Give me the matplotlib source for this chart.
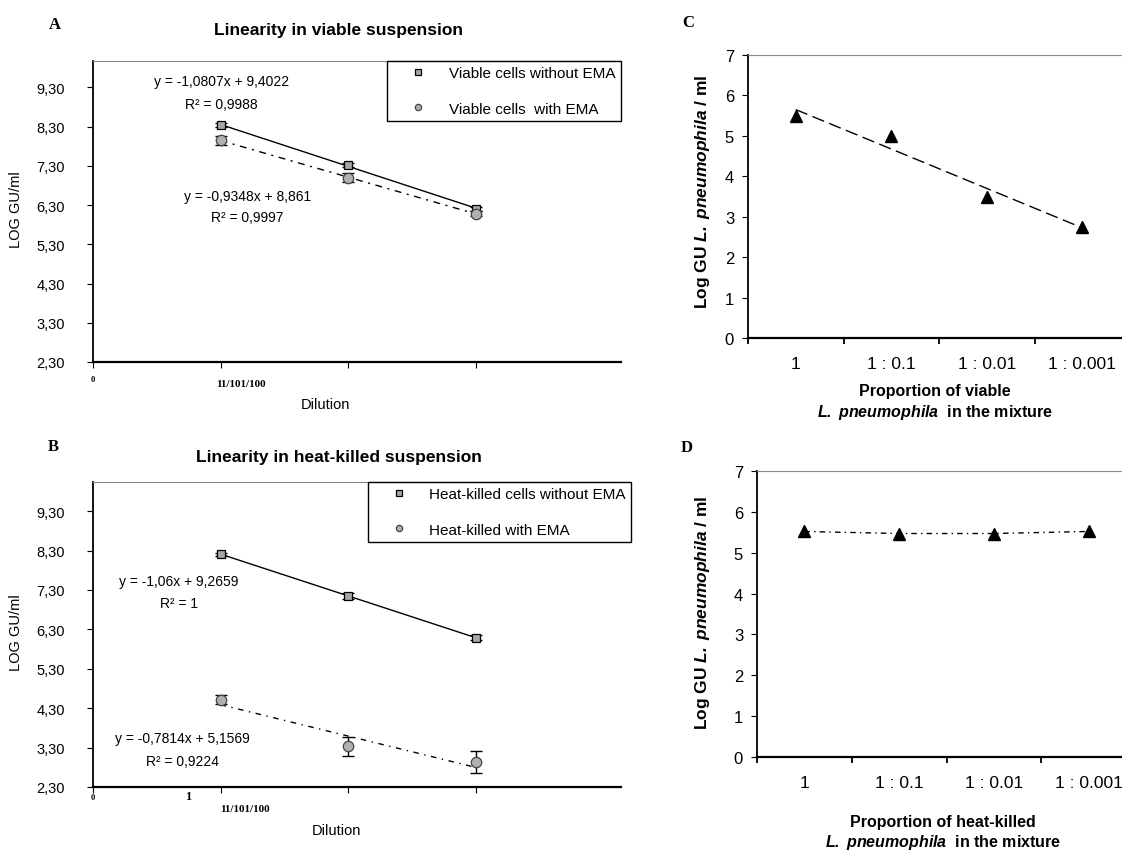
import matplotlib.pyplot as plt
import numpy as np

plt.rcParams['font.family'] = ['Liberation Sans', 'DejaVu Sans']
plt.rcParams['mathtext.fontset'] = 'custom'
plt.rcParams['mathtext.rm'] = 'Liberation Sans'
plt.rcParams['mathtext.bf'] = 'Liberation Sans:bold'
plt.rcParams['mathtext.it'] = 'Liberation Sans:italic'
plt.rcParams['mathtext.bfit'] = 'Liberation Sans:italic:bold'

#panels A, B : dilution series
dilution = [1, 2, 3]
viable_no_ema = [8.33, 7.33, 6.20]
viable_no_ema_err = [0.05, 0.05, 0.05]
viable_ema = [7.95, 7.00, 6.08]
viable_ema_err = [0.12, 0.12, 0.06]
heat_no_ema = [8.21, 7.15, 6.09]
heat_no_ema_err = [0.04, 0.08, 0.07]
heat_ema = [4.52, 3.33, 2.93]
heat_ema_err = [0.12, 0.25, 0.28]
log_ticks = [2.3, 3.3, 4.3, 5.3, 6.3, 7.3, 8.3, 9.3]

#panels C, D : mixtures
proportions = ['1', '1 : 0.1', '1 : 0.01', '1 : 0.001']
mix_viable = [5.5, 5.0, 3.5, 2.75]
mix_heat = [5.52, 5.47, 5.47, 5.52]

W, H = 1122, 853
fig = plt.figure(figsize=(W / 100, H / 100), dpi=100)

def px_axes(left, top, right, bottom):
    return fig.add_axes([left / W, 1 - bottom / H, (right - left) / W, (bottom - top) / H])

def style_axes(ax):
    ax.spines['right'].set_visible(False)
    ax.spines['top'].set_color('#8a8a8a')
    ax.spines['left'].set_linewidth(1.3)
    ax.spines['bottom'].set_linewidth(1.6)

sq = dict(marker='s', ms=6, mfc='#a6a6a6', mec='black', mew=0.9)
ci = dict(marker='o', ms=7.5, mfc='#b0b0b0', mec='#444444', mew=0.9)

def dilution_panel(ax, y1, e1, y2, e2, ls2, lab1, lab2, eqs, ytop):
    x = np.array(dilution)
    for y, e, ls in [(y1, e1, '-'), (y2, e2, ls2)]:
        ax.errorbar(x, y, yerr=e, fmt='none', ecolor='black', elinewidth=1, capsize=4, capthick=1)
        k = np.polyfit(x, y, 1)
        ax.plot(x, np.polyval(k, x), color='black', lw=1, ls=ls)
    ax.plot(x, y1, ls='none', label=lab1, **sq)
    ax.plot(x, y2, ls='none', label=lab2, **ci)
    for (tx, ty, s) in eqs:
        ax.text(tx, ty, s, ha='center', va='center', fontsize=10)
    ax.set_xlim(0, 4.14)
    ax.set_ylim(2.3, ytop)
    ax.set_xticks([0, 1, 2, 3])
    ax.set_xticklabels([])
    ax.set_yticks(log_ticks)
    ax.set_yticklabels([('%.2f' % v).replace('.', ',') for v in log_ticks], fontsize=10.5)
    ax.tick_params(axis='y', length=4, pad=16)
    ax.tick_params(axis='x', length=4)
    ax.set_ylabel('LOG GU/ml', fontsize=10.5)
    ax.set_xlabel('Dilution', fontsize=10.5)
    style_axes(ax)

def box_legend(ax, x0):
    leg = ax.legend(loc='upper left', bbox_to_anchor=(x0, 1.0), fontsize=11, frameon=True, fancybox=False,
                    edgecolor='black', framealpha=1, borderpad=0.35, labelspacing=1.4, handlelength=3.4,
                    handletextpad=0.3, borderaxespad=0)
    leg.get_frame().set_linewidth(1)
    leg.legend_handles[0].set_markersize(5)
    leg.legend_handles[1].set_markersize(4.5)

#A
axA = px_axes(93, 62, 621, 363)
dilution_panel(axA, viable_no_ema, viable_no_ema_err, viable_ema, viable_ema_err, (0, (5, 4, 1.5, 4)),
               'Viable cells without EMA', 'Viable cells  with EMA',
               [(1.01, 9.46, 'y = -1,0807x + 9,4022'), (1.01, 8.87, 'R² = 0,9988'),
                (1.21, 6.53, 'y = -0,9348x + 8,861'), (1.21, 5.99, 'R² = 0,9997')], 9.97)
box_legend(axA, 0.557)
axA.yaxis.set_label_coords(-0.133, 0.508)
axA.xaxis.set_label_coords(0.44, -0.117)
axA.text(0, -0.056, '0', transform=axA.get_xaxis_transform(), ha='center', va='center',
         fontsize=6, family='Liberation Serif', fontweight='bold')
axA.text(0.965, -0.072, '11/101/100', transform=axA.get_xaxis_transform(), ha='left', va='center',
         fontsize=8, family='Liberation Serif', fontweight='bold')

#B
axB = px_axes(93, 483, 621, 788)
dilution_panel(axB, heat_no_ema, heat_no_ema_err, heat_ema, heat_ema_err, (0, (4, 4, 1, 4)),
               'Heat-killed cells without EMA', 'Heat-killed with EMA',
               [(0.675, 7.53, 'y = -1,06x + 9,2659'), (0.675, 6.97, 'R² = 1'),
                (0.70, 3.54, 'y = -0,7814x + 5,1569'), (0.70, 2.96, 'R² = 0,9224')], 10.04)
box_legend(axB, 0.52)
axB.yaxis.set_label_coords(-0.133, 0.51)
axB.xaxis.set_label_coords(0.462, -0.118)
axB.text(0, -0.033, '0', transform=axB.get_xaxis_transform(), ha='center', va='center',
         fontsize=6, family='Liberation Serif', fontweight='bold')
axB.text(0.745, -0.03, '1', transform=axB.get_xaxis_transform(), ha='center', va='center',
         fontsize=9, family='Liberation Serif', fontweight='bold')
axB.text(1.0, -0.072, '11/101/100', transform=axB.get_xaxis_transform(), ha='left', va='center',
         fontsize=8, family='Liberation Serif', fontweight='bold')

def mixture_panel(ax, y, ls, fit, line1, ylab_xy, xl_y):
    x = np.arange(len(y))
    if fit:
        k = np.polyfit(x, y, 1)
        ax.plot(x, np.polyval(k, x), color='black', lw=1, ls=ls)
    else:
        ax.plot(x, y, color='black', lw=1, ls=ls)
    ax.plot(x, y, ls='none', marker='^', ms=8, color='black')
    ax.set_xlim(-0.5, 3.5)
    ax.set_ylim(0, 7)
    ax.set_yticks(range(8))
    ax.tick_params(axis='y', labelsize=12, length=4, pad=6)
    ax.set_xticks([-0.5, 0.5, 1.5, 2.5, 3.5])
    ax.set_xticklabels([])
    ax.tick_params(axis='x', which='major', length=4, width=1.3)
    ax.set_xticks(x, proportions, minor=True)
    ax.tick_params(axis='x', which='minor', length=0, labelsize=12.5, pad=13)
    ax.set_ylabel(r'Log GU $\mathbfit{L.}$ $\mathbfit{pneumophila}$ / ml', fontsize=12.5, fontweight='bold')
    ax.yaxis.set_label_coords(*ylab_xy)
    ax.text(0.49, xl_y[0], line1, transform=ax.transAxes, ha='center', va='center',
            fontsize=11.5, fontweight='bold')
    ax.text(0.49, xl_y[1], r'$\mathbfit{L.}$ $\mathbfit{pneumophila}$  in the mixture', transform=ax.transAxes,
            ha='center', va='center', fontsize=11.5, fontweight='bold')
    style_axes(ax)

#C
axC = px_axes(748, 56, 1130, 339)
mixture_panel(axC, mix_viable, (0, (9, 4)), True, 'Proportion of viable', (-0.094, 0.52), (-0.187, -0.261))

#D
axD = px_axes(757, 472, 1136, 758)
mixture_panel(axD, mix_heat, (0, (4, 3, 1, 3)), False, 'Proportion of heat-killed', (-0.119, 0.507), (-0.224, -0.297))

#titles and panel letters
fig.text(339 / W, 1 - 30 / H, 'Linearity in viable suspension', ha='center', va='center', fontsize=12.5, fontweight='bold')
fig.text(339 / W, 1 - 458 / H, 'Linearity in heat-killed suspension', ha='center', va='center', fontsize=12.5, fontweight='bold')
for s, px, py in [('A', 55, 25), ('B', 53, 447), ('C', 688, 23), ('D', 687, 448)]:
    fig.text(px / W, 1 - py / H, s, ha='center', va='center', fontsize=12, fontweight='bold', family='Liberation Serif')

fig.savefig('out.png', dpi=100)
